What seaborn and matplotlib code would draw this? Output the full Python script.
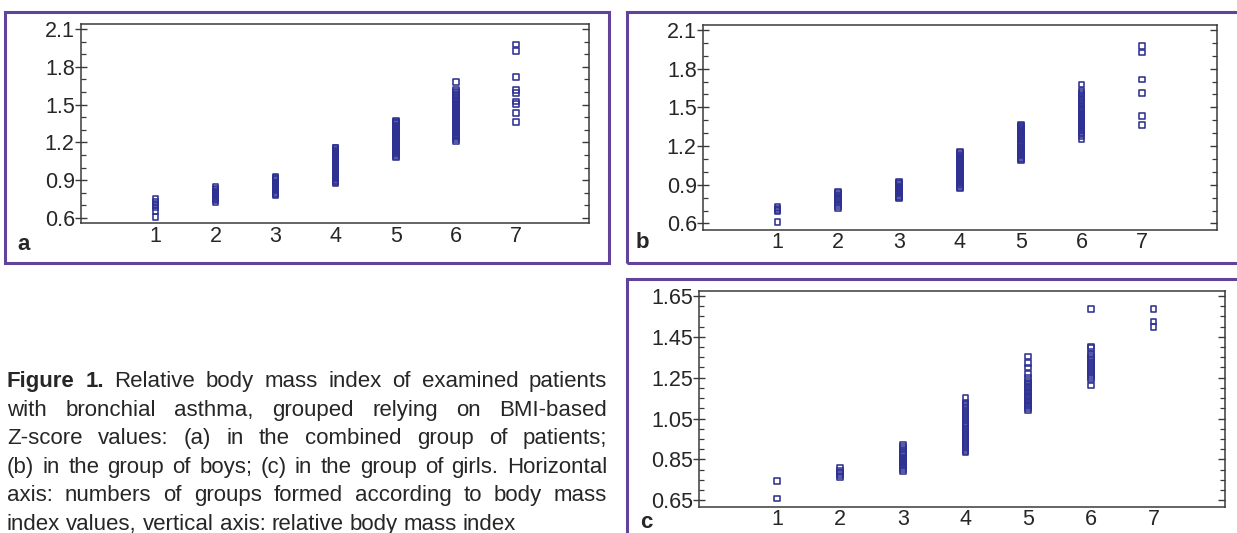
import numpy as np
import pandas as pd
import matplotlib
matplotlib.use("Agg")
import matplotlib.pyplot as plt
import seaborn as sns
from matplotlib.patches import Rectangle
from matplotlib.ticker import FixedLocator, FixedFormatter

# ---------------- data ----------------
groups = [1, 2, 3, 4, 5, 6, 7]
group_labels = ["1", "2", "3", "4", "5", "6", "7"]

# panel a: combined group
a_g1 = [0.61, 0.655, 0.685, 0.70, 0.71, 0.73, 0.75]
a_g2 = [0.725, 0.74, 0.75, 0.76, 0.77, 0.78, 0.785, 0.79, 0.80, 0.81, 0.82, 0.835, 0.85]
a_g3 = [0.785, 0.79, 0.80, 0.81, 0.82, 0.83, 0.84, 0.845, 0.85, 0.86, 0.87, 0.88,
        0.89, 0.90, 0.91, 0.92, 0.925]
a_g4 = [0.875, 0.885, 0.895, 0.905, 0.915, 0.925, 0.935, 0.945, 0.955, 0.965, 0.975,
        0.985, 0.995, 1.005, 1.015, 1.025, 1.035, 1.045, 1.055, 1.065, 1.075, 1.085,
        1.095, 1.105, 1.115, 1.125, 1.135, 1.145, 1.155, 1.16]
a_g5 = [1.086, 1.095, 1.105, 1.115, 1.125, 1.135, 1.145, 1.155, 1.165, 1.175, 1.185,
        1.195, 1.205, 1.215, 1.225, 1.235, 1.245, 1.255, 1.265, 1.275, 1.285, 1.295,
        1.305, 1.315, 1.325, 1.335, 1.345, 1.355, 1.365, 1.374]
a_g6 = [1.68, 1.62, 1.605, 1.59, 1.575, 1.56, 1.545, 1.53, 1.52, 1.51, 1.50, 1.49,
        1.48, 1.47, 1.46, 1.45, 1.44, 1.43, 1.42, 1.41, 1.40, 1.39, 1.38, 1.37, 1.36,
        1.35, 1.34, 1.33, 1.32, 1.31, 1.30, 1.29, 1.28, 1.27, 1.26, 1.25, 1.24, 1.23, 1.21]
a_g7 = [1.977, 1.924, 1.718, 1.619, 1.593, 1.526, 1.507, 1.435, 1.363]

# panel b: boys
b_g1 = [0.61, 0.695, 0.705, 0.715, 0.725]
b_g2 = [0.72, 0.735, 0.75, 0.765, 0.78, 0.79, 0.80, 0.81, 0.825, 0.835, 0.848]
b_g3 = [0.796, 0.805, 0.815, 0.825, 0.835, 0.845, 0.855, 0.865, 0.875, 0.885, 0.895,
        0.905, 0.915, 0.921]
b_g4 = [0.874, 0.885, 0.895, 0.905, 0.915, 0.925, 0.935, 0.945, 0.955, 0.965, 0.975,
        0.985, 0.995, 1.005, 1.015, 1.025, 1.035, 1.045, 1.055, 1.065, 1.075, 1.085,
        1.095, 1.105, 1.115, 1.125, 1.135, 1.145, 1.153]
b_g5 = [1.09, 1.10, 1.11, 1.12, 1.13, 1.14, 1.15, 1.16, 1.17, 1.18, 1.19, 1.20, 1.21,
        1.22, 1.23, 1.24, 1.25, 1.26, 1.27, 1.28, 1.29, 1.30, 1.31, 1.32, 1.33, 1.34,
        1.35, 1.36, 1.367]
b_g6 = [1.677, 1.625, 1.612, 1.60, 1.588, 1.575, 1.56, 1.545, 1.53, 1.515, 1.50, 1.49,
        1.48, 1.47, 1.46, 1.45, 1.44, 1.43, 1.42, 1.41, 1.40, 1.39, 1.38, 1.37, 1.36,
        1.35, 1.34, 1.33, 1.32, 1.31, 1.30, 1.28, 1.25]
b_g7 = [1.975, 1.925, 1.717, 1.61, 1.433, 1.363]

# panel c: girls
c_g1 = [0.746, 0.658]
c_g2 = [0.765, 0.775, 0.785, 0.795, 0.811]
c_g3 = [0.795, 0.80, 0.81, 0.82, 0.83, 0.835, 0.84, 0.845, 0.85, 0.855, 0.86, 0.87,
        0.88, 0.89, 0.90, 0.91, 0.922]
c_g4 = [1.15, 1.129, 1.12, 1.11, 1.10, 1.09, 1.08, 1.07, 1.06, 1.05, 1.04, 1.03, 1.02,
        1.01, 1.00, 0.99, 0.98, 0.97, 0.96, 0.95, 0.94, 0.93, 0.92, 0.91, 0.90, 0.892,
        0.884]
c_g5 = [1.354, 1.321, 1.30, 1.269, 1.248, 1.231, 1.222, 1.214, 1.206, 1.198, 1.19,
        1.182, 1.174, 1.166, 1.158, 1.15, 1.142, 1.134, 1.126, 1.118, 1.11, 1.10, 1.093]
c_g6 = [1.586, 1.403, 1.395, 1.365, 1.355, 1.345, 1.335, 1.325, 1.315, 1.305, 1.295,
        1.285, 1.275, 1.265, 1.255, 1.245, 1.212]
c_g7 = [1.588, 1.525, 1.497]

ab_yticks = [0.6, 0.9, 1.2, 1.5, 1.8, 2.1]
ab_ytick_labels = ["0.6", "0.9", "1.2", "1.5", "1.8", "2.1"]
ab_yminor = [0.7, 0.8, 1.0, 1.1, 1.3, 1.4, 1.6, 1.7, 1.9, 2.0]
c_yticks = [0.65, 0.85, 1.05, 1.25, 1.45, 1.65]
c_ytick_labels = ["0.65", "0.85", "1.05", "1.25", "1.45", "1.65"]
c_yminor = [0.70, 0.75, 0.80, 0.90, 0.95, 1.00, 1.10, 1.15, 1.20, 1.30, 1.35, 1.40,
            1.50, 1.55, 1.60]

caption_lines = [
    "Figure 1. Relative body mass index of examined patients",
    "with bronchial asthma, grouped relying on BMI-based",
    "Z-score values: (a) in the combined group of patients;",
    "(b) in the group of boys; (c) in the group of girls. Horizontal",
    "axis: numbers of groups formed according to body mass",
    "index values, vertical axis: relative body mass index",
]


def to_frame(cols):
    rows = []
    for g, vals in zip(groups, cols):
        for v in vals:
            rows.append((g, v))
    return pd.DataFrame(rows, columns=["group", "value"])


df_a = to_frame([a_g1, a_g2, a_g3, a_g4, a_g5, a_g6, a_g7])
df_b = to_frame([b_g1, b_g2, b_g3, b_g4, b_g5, b_g6, b_g7])
df_c = to_frame([c_g1, c_g2, c_g3, c_g4, c_g5, c_g6, c_g7])

# ---------------- style ----------------
sns.set_theme(style="white")
plt.rcParams["font.family"] = ["Liberation Sans", "DejaVu Sans"]

W, H = 1237, 533
fig = plt.figure(figsize=(W / 100, H / 100), dpi=100)
fig.patch.set_facecolor("white")

BLUE = "#2e3192"
FRAME = "#61449a"
TXT = "#262626"
SPINE = "#3a3a3a"
TICKSIZE = 15.5


def px_rect(l, r, t, b):
    return [l / W, 1 - b / H, (r - l) / W, (b - t) / H]


def frame(l, r, t, b):
    fig.patches.append(Rectangle((l / W, 1 - b / H), (r - l) / W, (b - t) / H,
                                 transform=fig.transFigure, fill=False,
                                 edgecolor=FRAME, linewidth=2.2, clip_on=False))


def panel(rect, df, ylim, xlim, yt, ytl, ymin):
    ax = fig.add_axes(rect)
    sns.scatterplot(data=df, x="group", y="value", ax=ax, marker="s", s=17,
                    facecolor="none", edgecolor=BLUE, linewidth=1.15,
                    legend=False, zorder=3)
    ax.set_xlim(*xlim)
    ax.set_ylim(*ylim)
    ax.set_xlabel("")
    ax.set_ylabel("")
    ax.xaxis.set_major_locator(FixedLocator(groups))
    ax.xaxis.set_major_formatter(FixedFormatter(group_labels))
    ax.yaxis.set_major_locator(FixedLocator(yt))
    ax.yaxis.set_major_formatter(FixedFormatter(ytl))
    ax.yaxis.set_minor_locator(FixedLocator(ymin))
    for s in ax.spines.values():
        s.set_color(SPINE)
        s.set_linewidth(1.1)
        s.set_visible(True)
    ax.tick_params(axis="x", length=0, pad=1.5, labelsize=TICKSIZE, colors=TXT)
    ax.tick_params(axis="y", which="major", direction="inout", length=8, width=1,
                   color=SPINE, pad=0.5, labelsize=TICKSIZE, labelcolor=TXT,
                   left=True, right=False)
    ax.tick_params(axis="y", which="minor", direction="in", length=3.5, width=0.9,
                   color=SPINE, left=True, right=False)
    sec = ax.secondary_yaxis("right")
    sec.yaxis.set_major_locator(FixedLocator(yt))
    sec.yaxis.set_minor_locator(FixedLocator(ymin))
    sec.tick_params(which="major", direction="in", length=5, width=1, color=SPINE,
                    labelright=False)
    sec.tick_params(which="minor", direction="in", length=3.5, width=0.9, color=SPINE)
    sec.spines["right"].set_visible(False)
    ax.grid(False)
    return ax


# frames
frame(5, 609, 12, 263)
frame(627, 1245, 12, 263)
frame(627, 1245, 279, 545)

panel(px_rect(81, 589, 24, 223.5), df_a, (0.557, 2.14), (-0.24, 8.22),
      ab_yticks, ab_ytick_labels, ab_yminor)
panel(px_rect(703, 1217, 25, 229.5), df_b, (0.553, 2.139), (-0.226, 8.23),
      ab_yticks, ab_ytick_labels, ab_yminor)
panel(px_rect(699.5, 1225, 290.7, 507), df_c, (0.617, 1.676), (-0.24, 8.14),
      c_yticks, c_ytick_labels, c_yminor)

# panel letters
for lx, ly, s in [(17, 245, "a"), (636, 243, "b"), (640, 522, "c")]:
    fig.text(lx / W, 1 - ly / H, s, fontsize=16, fontweight="bold", color=TXT,
             ha="left", va="center")

# ---------------- caption (justified) ----------------
renderer = fig.canvas.get_renderer()
X0, X1 = 7, 607
base0, step = 387, 28.6


def make_words(line, fs):
    words = line.split(" ")
    objs = []
    for i, w in enumerate(words):
        bold = line.startswith("Figure 1.") and i < 2
        objs.append(fig.text(0, 0, w, fontsize=fs, color=TXT,
                             fontweight="bold" if bold else "normal",
                             ha="left", va="baseline"))
    return objs


# determine font size so every justified line fits
fs0 = 16.0
widest = 0
for line in caption_lines[:-1]:
    objs = make_words(line, fs0)
    tot = sum(o.get_window_extent(renderer).width for o in objs)
    widest = max(widest, tot + (len(objs) - 1) * 0.25 * fs0 * 100 / 72)
    for o in objs:
        o.remove()
fs = min(fs0, fs0 * (X1 - X0) / widest)

for k, line in enumerate(caption_lines):
    objs = make_words(line, fs)
    widths = [o.get_window_extent(renderer).width for o in objs]
    if k < len(caption_lines) - 1:
        gap = (X1 - X0 - sum(widths)) / (len(objs) - 1)
    else:
        gap = 0.27 * fs * 100 / 72
    x = X0
    yb = base0 + k * step
    for o, w in zip(objs, widths):
        o.set_position((x / W, 1 - yb / H))
        x += w + gap

fig.savefig("out.png", dpi=100, facecolor="white")
